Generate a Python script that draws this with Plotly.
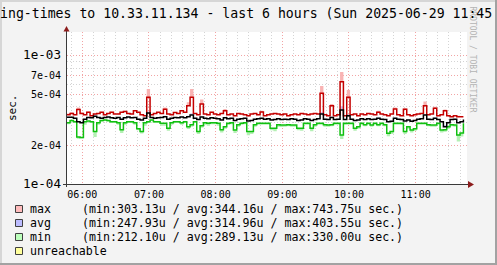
import numpy as np
import pandas as pd
import plotly.graph_objects as go

# ---------------- data (microseconds, 3-minute steps from 05:46) ----------------
t_start = "2025-06-29 05:46:00"
t_step = "3min"

max_us = [347, 355, 347, 380, 355, 347, 362, 341, 351, 355,
          362, 347, 355, 362, 351, 351, 362, 368, 355, 351,
          373, 362, 347, 341, 474, 347, 355, 362, 355, 382,
          351, 347, 360, 355, 373, 362, 408, 474, 355, 347,
          420, 351, 347, 362, 351, 347, 355, 373, 347, 351,
          341, 355, 351, 347, 341, 351, 355, 347, 364, 341,
          347, 351, 355, 351, 347, 351, 341, 347, 351, 347,
          355, 351, 347, 351, 355, 351, 509, 347, 341, 408,
          341, 347, 627, 341, 474, 347, 351, 341, 351, 347,
          355, 351, 347, 362, 351, 347, 341, 351, 385, 347,
          341, 382, 347, 341, 347, 351, 355, 408, 347, 351,
          390, 341, 347, 373, 341, 335, 341, 335, 335, 335]

max_peak_us = [355, 362, 350, 395, 360, 350, 368, 345, 351, 358,
               366, 347, 358, 366, 351, 355, 366, 372, 355, 351,
               378, 362, 347, 345, 550, 347, 358, 362, 355, 395,
               351, 347, 362, 355, 378, 362, 434, 550, 358, 347,
               455, 351, 347, 366, 351, 347, 355, 385, 347, 351,
               341, 358, 351, 347, 341, 351, 358, 347, 373, 341,
               347, 351, 358, 351, 347, 351, 341, 347, 351, 347,
               358, 351, 347, 351, 358, 351, 580, 347, 341, 420,
               341, 347, 746, 341, 541, 347, 351, 341, 351, 347,
               358, 351, 347, 373, 351, 347, 341, 351, 395, 347,
               341, 390, 347, 341, 347, 351, 358, 440, 347, 351,
               400, 341, 347, 380, 341, 335, 341, 340, 335, 335]

avg_us = [331, 331, 325, 305, 300, 320, 330, 328, 338, 330,
          325, 330, 333, 328, 325, 330, 320, 328, 333, 328,
          330, 320, 315, 325, 357, 330, 325, 328, 330, 335,
          320, 325, 330, 328, 333, 328, 335, 345, 325, 318,
          333, 325, 322, 328, 325, 322, 315, 328, 322, 325,
          312, 320, 322, 325, 310, 312, 320, 322, 325, 320,
          322, 315, 318, 322, 318, 320, 318, 322, 320, 312,
          315, 322, 320, 312, 318, 322, 351, 320, 318, 330,
          318, 320, 377, 318, 340, 320, 312, 315, 322, 318,
          322, 318, 320, 325, 320, 318, 305, 308, 325, 320,
          318, 310, 315, 308, 312, 320, 322, 345, 320, 318,
          325, 318, 305, 280, 300, 318, 320, 300, 305, 318]

avg_peak_us = [335, 333, 328, 310, 305, 322, 333, 330, 342, 332,
               328, 332, 336, 330, 328, 332, 324, 330, 336, 330,
               333, 324, 318, 328, 368, 332, 328, 330, 333, 340,
               324, 328, 332, 330, 336, 330, 340, 355, 328, 322,
               338, 328, 325, 330, 328, 325, 318, 332, 325, 328,
               315, 323, 325, 328, 314, 315, 323, 325, 328, 323,
               325, 318, 321, 325, 321, 323, 321, 325, 323, 315,
               318, 325, 323, 315, 321, 325, 362, 323, 321, 336,
               321, 323, 403.5, 321, 350, 323, 315, 318, 325, 321,
               325, 321, 323, 330, 323, 321, 310, 312, 330, 323,
               321, 314, 318, 312, 315, 323, 325, 352, 323, 321,
               330, 321, 310, 288, 305, 321, 323, 306, 310, 321]

min_us = [300, 312, 306, 232, 230, 306, 310, 306, 256, 300,
          312, 315, 312, 306, 306, 300, 265, 300, 306, 306,
          300, 270, 256, 300, 306, 315, 306, 306, 297, 297,
          272, 300, 306, 306, 300, 306, 280, 290, 306, 256,
          285, 300, 297, 300, 300, 297, 265, 280, 297, 300,
          263, 290, 297, 300, 256, 256, 290, 297, 297, 297,
          297, 272, 272, 290, 288, 288, 290, 288, 288, 272,
          272, 297, 297, 272, 290, 297, 297, 290, 288, 290,
          297, 297, 241, 297, 297, 297, 272, 280, 297, 290,
          297, 288, 297, 290, 297, 290, 249, 256, 297, 297,
          297, 256, 280, 263, 270, 297, 297, 297, 290, 288,
          288, 297, 263, 265, 280, 290, 288, 241, 250, 297]

min_low_us = [292, 306, 300, 225, 226, 290, 306, 300, 232, 290,
              306, 312, 306, 300, 300, 290, 250, 290, 300, 300,
              290, 262, 248, 285, 300, 312, 300, 300, 285, 285,
              260, 290, 300, 300, 290, 300, 268, 280, 300, 245,
              275, 290, 285, 292, 292, 285, 252, 270, 288, 292,
              250, 280, 290, 292, 240, 245, 280, 290, 290, 290,
              290, 262, 258, 280, 278, 280, 282, 280, 280, 262,
              260, 290, 290, 258, 280, 290, 290, 280, 280, 282,
              290, 290, 224, 288, 290, 290, 260, 270, 290, 282,
              290, 280, 290, 282, 290, 282, 236, 245, 290, 290,
              288, 245, 270, 252, 260, 290, 290, 290, 282, 280,
              280, 290, 252, 255, 270, 282, 280, 214, 235, 290]

x_range = ["2025-06-29 05:46:14", "2025-06-29 11:46:14"]
hour_ticks = ["2025-06-29 06:00", "2025-06-29 07:00", "2025-06-29 08:00",
              "2025-06-29 09:00", "2025-06-29 10:00", "2025-06-29 11:00"]
hour_labels = ["06:00", "07:00", "08:00", "09:00", "10:00", "11:00"]

y_ticks = [1e-4, 2e-4, 5e-4, 7e-4, 1e-3]
y_labels = ["1e-04", "2e-04", "5e-04", "7e-04", "1e-03"]
y_decades = [1e-4, 1e-3]
y_minor = [3e-4, 4e-4, 6e-4, 8e-4, 9e-4]
y_top = 1.53e-3

legend_names = ["max", "avg", "min", "unreachable"]
legend_min = [303.13, 247.93, 212.10, None]
legend_avg = [344.16, 314.96, 289.13, None]
legend_max = [743.75, 403.55, 330.00, None]
legend_colors = ["#ffbcbc", "#bcbcff", "#bcffbc", "#ffff9c"]

title_text = "ing-times to 10.33.11.134 - last 6 hours (Sun 2025-06-29 11:45"
watermark = "RRDTOOL / TOBI OETIKER"
unit_label = "sec."

# ---------------- geometry ----------------
W, H = 497, 265
L, R, T, B = 67, 30, 32, 81
PW, PH = W - L - R, H - T - B
MONO = "DejaVu Sans Mono"


def fx(px):
    return (px - L) / PW


def fy(py):
    return (H - B - py) / PH


times = pd.date_range(t_start, periods=len(max_us), freq=t_step)
to_s = lambda a: np.array(a, dtype=float) * 1e-6

fig = go.Figure()


def band(lo, hi, color):
    fig.add_trace(go.Scatter(x=times, y=to_s(lo), mode="lines", line=dict(width=0, shape="hv"),
                             hoverinfo="skip", showlegend=False))
    fig.add_trace(go.Scatter(x=times, y=to_s(hi), mode="lines", line=dict(width=0, shape="hv"),
                             fill="tonexty", fillcolor=color, hoverinfo="skip", showlegend=False))


band(max_us, max_peak_us, "#f9b3b3")
band(avg_us, avg_peak_us, "#c8c8f4")
band(min_low_us, min_us, "#b4f0b4")

for vals, col in [(max_us, "#c40000"), (min_us, "#10c010"), (avg_us, "#000000")]:
    fig.add_trace(go.Scatter(x=times, y=to_s(vals), mode="lines",
                             line=dict(color=col, width=1.5, shape="hv"),
                             hoverinfo="skip", showlegend=False))

major_grid = "#f2a4a4"
minor_grid = "#d4d4d4"

y_ticktext = [f'<span style="font-size:12.6px">{lab}</span>' if v in y_decades else lab
              for v, lab in zip(y_ticks, y_labels)]

fig.update_layout(
    width=W, height=H,
    margin=dict(l=L, r=R, t=T, b=B, pad=0),
    paper_bgcolor="#f3f3f3", plot_bgcolor="#ffffff",
    showlegend=False,
    xaxis=dict(type="date", range=x_range, tickmode="array", tickvals=hour_ticks,
               ticktext=hour_labels, ticks="", showline=False, zeroline=False,
               ticklabelstandoff=3,
               tickfont=dict(family=MONO, size=10, color="#000000"),
               showgrid=True, gridcolor=major_grid, griddash="1px,2px", gridwidth=1,
               minor=dict(tick0="2025-06-29 05:00:00", dtick=600000, showgrid=True,
                          gridcolor=minor_grid, griddash="1px,2px", gridwidth=1)),
    yaxis=dict(type="log", range=[-4, np.log10(y_top)], tickmode="array",
               tickvals=y_ticks, ticktext=y_ticktext, ticks="", showline=False,
               zeroline=False, ticklabelstandoff=5,
               tickfont=dict(family=MONO, size=10, color="#000000"),
               showgrid=True, gridcolor=major_grid, griddash="1px,2px", gridwidth=1,
               minor=dict(tickmode="array", tickvals=y_minor, showgrid=True,
                          gridcolor=minor_grid, griddash="1px,2px", gridwidth=1)),
)

shapes = []
annotations = []

# legend swatches
for r, name in enumerate(legend_names):
    cy = 209 + 14 * r
    shapes.append(dict(type="rect", xref="paper", yref="paper",
                       x0=fx(15.5), x1=fx(22.5), y0=fy(cy - 3.5), y1=fy(cy + 3.5),
                       fillcolor=legend_colors[r], line=dict(color="#404040", width=1)))
    annotations.append(dict(x=fx(29), y=fy(cy), xref="paper", yref="paper", text=name,
                            showarrow=False, xanchor="left", yanchor="middle", borderpad=0,
                            font=dict(family=MONO, size=11.6, color="#000000")))
    if legend_min[r] is not None:
        stats = f"(min:{legend_min[r]:.2f}u / avg:{legend_avg[r]:.2f}u / max:{legend_max[r]:.2f}u sec.)"
        annotations.append(dict(x=fx(80.5), y=fy(cy), xref="paper", yref="paper", text=stats,
                                showarrow=False, xanchor="left", yanchor="middle", borderpad=0,
                                font=dict(family=MONO, size=11.6, color="#000000")))

# image border (3D shade)
for (x0, x1, y0, y1, c) in [(0, W, 0, 2, "#d6d6d6"), (0, 2, 0, H, "#d6d6d6"),
                            (W - 2, W, 0, H, "#a2a2a2"), (0, W, H - 2, H, "#a2a2a2")]:
    shapes.append(dict(type="rect", xref="paper", yref="paper",
                       x0=fx(x0), x1=fx(x1), y0=fy(y0), y1=fy(y1),
                       fillcolor=c, line=dict(width=0, color=c)))

# axes lines
shapes += [
    dict(type="line", xref="paper", yref="paper", x0=fx(66.5), x1=fx(66.5), y0=fy(187), y1=fy(29),
         line=dict(color="#3a3a3a", width=1)),
    dict(type="line", xref="paper", yref="paper", x0=fx(63), x1=fx(469), y0=fy(184.5), y1=fy(184.5),
         line=dict(color="#3a3a3a", width=1)),
]
# arrow heads
shapes += [
    dict(type="path", xref="paper", yref="paper",
         path=f"M{fx(63.5):.5f},{fy(31.5):.5f} L{fx(66.5):.5f},{fy(26):.5f} L{fx(69.5):.5f},{fy(31.5):.5f} Z",
         fillcolor="#8c1c1c", line=dict(width=0, color="#8c1c1c")),
    dict(type="path", xref="paper", yref="paper",
         path=f"M{fx(468):.5f},{fy(181):.5f} L{fx(474):.5f},{fy(184.5):.5f} L{fx(468):.5f},{fy(188):.5f} Z",
         fillcolor="#8c1c1c", line=dict(width=0, color="#8c1c1c")),
]

annotations.append(dict(x=fx(472.5), y=fy(59), xref="paper", yref="paper", text=watermark,
                        textangle=90, showarrow=False, xanchor="center", yanchor="middle",
                        font=dict(family=MONO, size=8, color="#b4b4b4")))
annotations.append(dict(x=fx(-1), y=fy(13.5), xref="paper", yref="paper", text=title_text,
                        showarrow=False, xanchor="left", yanchor="middle", borderpad=0,
                        font=dict(family=MONO, size=13.2, color="#000000")))
annotations.append(dict(x=fx(12), y=fy(107), xref="paper", yref="paper", text=unit_label,
                        textangle=-90, showarrow=False, xanchor="center", yanchor="middle",
                        font=dict(family=MONO, size=11, color="#000000")))

fig.update_layout(shapes=shapes, annotations=annotations)
fig.write_html("out.html")
